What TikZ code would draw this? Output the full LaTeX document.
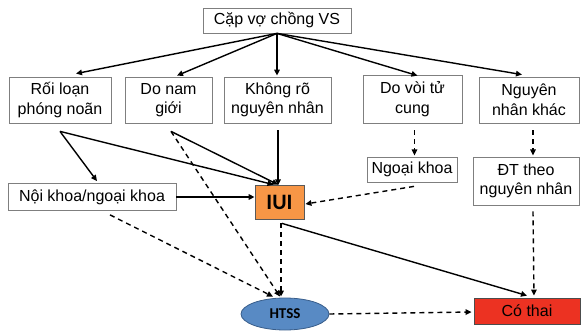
\documentclass[tikz,border=0pt]{standalone}
\usepackage{fontspec}
\setmainfont{Liberation Sans}
\newfontfamily\calib{Carlito}
\usetikzlibrary{arrows.meta,calc,shapes.geometric}
\definecolor{boxgray}{RGB}{127,127,127}
\definecolor{iuiorange}{RGB}{247,150,70}
\definecolor{htssblue}{RGB}{88,138,196}
\definecolor{htssedge}{RGB}{56,93,138}
\definecolor{ctred}{RGB}{236,50,34}
\tikzset{
  box/.style={draw=boxgray, line width=0.8pt, fill=white, inner sep=0pt, align=center,
    font=\fontsize{16}{19.5}\selectfont},
  arr/.style={line width=1.4pt, -{Triangle[length=6pt,width=5.5pt]}},
  darr/.style={arr, dash pattern=on 5pt off 4pt},
}
\begin{document}
\begin{tikzpicture}[x=1pt,y=-1pt]
\useasboundingbox (0,0) rectangle (582,332);
% nodes
\node[box, minimum width=148pt, minimum height=25pt] (top) at (277,20.5) {Cặp vợ chồng VS};
\node[box, minimum width=102pt, minimum height=46pt] (rl) at (60,100) {Rối loạn\\phóng noãn};
\node[box, minimum width=87pt, minimum height=46pt] (dn) at (168.5,100) {Do nam\\giới};
\node[box, minimum width=107pt, minimum height=46pt] (kr) at (277.5,100) {Không rõ\\nguyên nhân};
\node[box, minimum width=99pt, minimum height=48pt] (dv) at (412.5,99) {Do vòi tử\\cung};
\node[box, minimum width=100pt, minimum height=46pt] (nnk) at (529,100) {Nguyên\\nhân khác};
\node[box, minimum width=90pt, minimum height=25pt] (nk) at (412,169.5) {Ngoại khoa};
\node[box, minimum width=106pt, minimum height=48pt] (dt) at (526,181) {ĐT theo\\nguyên nhân};
\node[box, minimum width=168pt, minimum height=27pt] (nok) at (92,197) {Nội khoa/ngoại khoa};
\node[box, draw=gray!70!black, fill=iuiorange, minimum width=49pt, minimum height=34pt,
      font=\calib\bfseries\fontsize{22}{24}\selectfont] (iui) at (279.5,202) {IUI};
\node[ellipse, draw=htssedge, line width=0.8pt, fill=htssblue, minimum width=88pt, minimum height=32pt,
      inner sep=0pt, font=\calib\bfseries\fontsize{15}{17}\selectfont] (htss) at (285,314) {HTSS};
\node[box, draw=gray!60!black, fill=ctred, minimum width=106pt, minimum height=26pt] (ct) at (527,311) {Có thai};
% from top box
\draw[arr] (top.south) -- ($(rl.north)+(16,-3)$);
\draw[arr] (top.south) -- ($(dn.north)+(8.5,-1)$);
\draw[arr] (top.south) -- ($(top.south |- kr.north)+(0,-1)$);
\draw[arr] (top.south) -- ($(dv.north)+(5,1)$);
\draw[arr] (top.south) -- ($(nnk.north)+(-7,-2)$);
% causes to treatments
\draw[arr] ($(rl.south)+(0,8)$) -- ($(nok.north)+(5,-2)$);
\draw[arr] ($(rl.south)+(0,8)$) -- ($(iui.north)+(-6,0)$);
\draw[arr] ($(dn.south)+(2.5,8)$) -- ($(iui.north)+(-1.5,0)$);
\draw[darr] ($(dn.south)+(2.5,8)$) -- ($(htss.north)+(-5,-1)$);
\draw[arr] ($(kr.south)+(0.5,7)$) -- ($(kr.south)+(0.5,62)$);
\draw[arr] (nok.east) -- (nok.east -| iui.west);
\draw[darr] ($(dv.south)+(2,7)$) -- ($(dv.south)+(2,32)$);
\draw[darr] ($(nk.south)+(2,4)$) -- ($(iui.east)+(1,2)$);
\draw[darr] ($(nnk.south)+(4,7)$) -- ($(nnk.south)+(4,32)$);
\draw[darr] ($(dt.south)+(7,6)$) -- ($(ct.north)+(7,-2)$);
\draw[darr] ($(nok.south)+(18,4)$) -- ($(htss.north)+(-12,-1)$);
\draw[darr] ($(iui.south)+(1.5,4)$) -- ($(htss.north)+(-4,-1)$);
\draw[arr] ($(iui.south)+(2.5,4)$) -- ($(ct.north)+(0,-2)$);
\draw[darr] (htss.east) -- ($(ct.west)+(-2,1)$);
\end{tikzpicture}
\end{document}
